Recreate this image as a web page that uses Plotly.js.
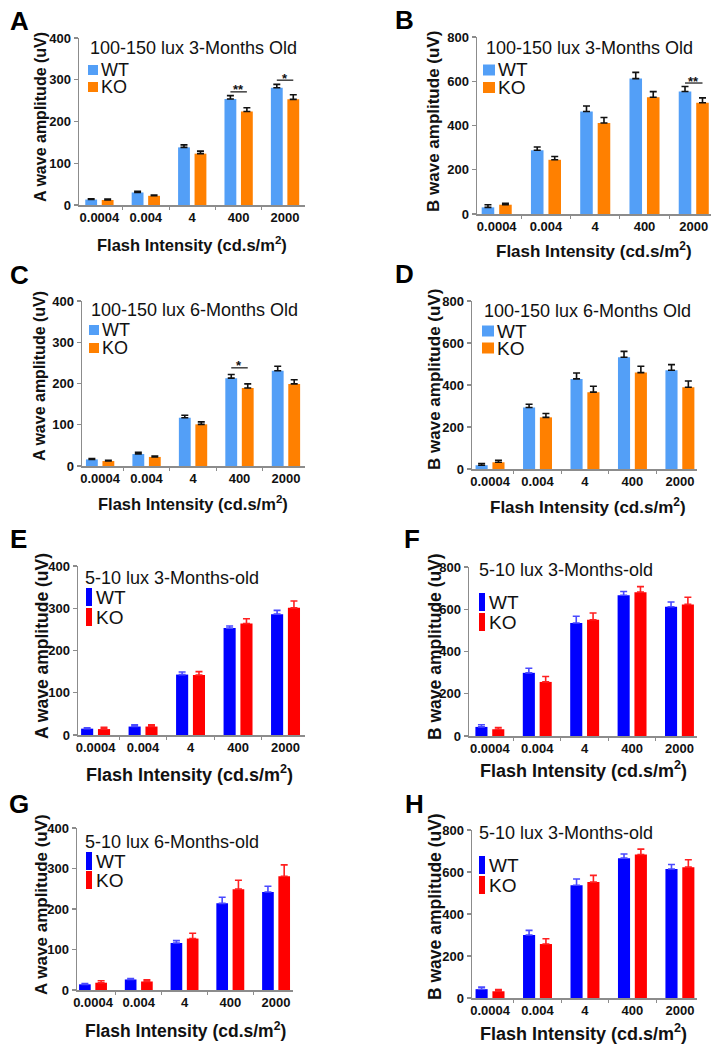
<!DOCTYPE html>
<html><head><meta charset="utf-8">
<script src="https://cdn.plot.ly/plotly-3.0.1.min.js"></script>
<style>html,body{margin:0;padding:0;background:#fff}</style>
</head><body><div id="chart" style="width:724px;height:1050px"></div>
<script>
// ---------- data ----------
const categories = ['0.0004', '0.004', '4', '400', '2000'];
const seriesNames = ['WT', 'KO'];

// A: A-wave, 100-150 lux, 3 months
const A_WT = [13, 30, 138, 254, 281];
const A_WTerr = [2, 3, 6, 8, 8];
const A_KO = [12, 22, 123, 224, 253];
const A_KOerr = [2, 2, 6, 9, 11];
// B: B-wave, 100-150 lux, 3 months
const B_WT = [30, 288, 463, 612, 554];
const B_WTerr = [12, 15, 25, 28, 22];
const B_KO = [42, 245, 411, 528, 503];
const B_KOerr = [6, 15, 25, 25, 22];
// C: A-wave, 100-150 lux, 6 months
const C_WT = [16, 29, 117, 213, 231];
const C_WTerr = [2, 4, 6, 9, 11];
const C_KO = [12, 22, 101, 189, 199];
const C_KOerr = [2, 2, 6, 10, 10];
// D: B-wave, 100-150 lux, 6 months
const D_WT = [18, 293, 429, 532, 470];
const D_WTerr = [8, 15, 28, 28, 27];
const D_KO = [32, 246, 366, 459, 389];
const D_KOerr = [10, 18, 28, 30, 30];
// E: A-wave, 5-10 lux, 3 months
const E_WT = [15, 20, 143, 253, 286];
const E_WTerr = [2, 4, 6, 5, 9];
const E_KO = [14, 20, 142, 264, 301];
const E_KOerr = [4, 4, 8, 11, 16];
// F: B-wave, 5-10 lux, 3 months
const F_WT = [43, 299, 535, 666, 612];
const F_WTerr = [10, 22, 32, 18, 22];
const F_KO = [32, 256, 550, 681, 623];
const F_KOerr = [8, 26, 32, 26, 34];
// G: A-wave, 5-10 lux, 6 months
const G_WT = [14, 26, 116, 214, 242];
const G_WTerr = [2, 2, 6, 15, 14];
const G_KO = [18, 21, 127, 249, 281];
const G_KOerr = [5, 4, 13, 22, 28];
// H: B-wave, 5-10 lux, 3 months
const H_WT = [42, 300, 537, 666, 614];
const H_WTerr = [10, 22, 30, 20, 22];
const H_KO = [32, 257, 552, 683, 623];
const H_KOerr = [8, 25, 32, 26, 35];

// significance markers
const sigA_cat = ['400', '2000'], sigA_y = [271, 299], sigA_txt = ['**', '*'];
const sigB_cat = ['2000'], sigB_y = [592], sigB_txt = ['**'];
const sigC_cat = ['400'], sigC_y = [238], sigC_txt = ['*'];

const panelTitles = ['100-150 lux 3-Months Old', '100-150 lux 3-Months Old',
  '100-150 lux 6-Months Old', '100-150 lux 6-Months Old',
  '5-10 lux 3-Months-old', '5-10 lux 3-Months-old',
  '5-10 lux 6-Months-old', '5-10 lux 3-Months-old'];
const yTitles = ['A wave amplitude (uV)', 'B wave amplitude (uV)'];
const xTitle = 'Flash Intensity (cd.s/m<sup>2</sup>)';

// ---------- layout / styling ----------
const W = 724, H = 1050;
const px = x => x / W, py = y => 1 - y / H;
const FONT = 'Liberation Sans, Arial, sans-serif';
const AXC = '#8c8c8c';
const BARW = 0.255, OFF_WT = -0.305, OFF_KO = 0.05;

const panels = [
  {L:'A', wt:A_WT, we:A_WTerr, ko:A_KO, ke:A_KOerr, yt:0, ymax:400, box:[79,305,38,205], xr:[-0.44,4.43],
   sch:0, let:[19,21], ttl:[88,48], sw:[88,98,10], lw:[70,87], tx:100, lf:18, yta:[40,117,16], xta:[192,244,16.5],
   sig:[sigA_cat,sigA_y,sigA_txt]},
  {L:'B', wt:B_WT, we:B_WTerr, ko:B_KO, ke:B_KOerr, yt:1, ymax:800, box:[477,711,37,214], xr:[-0.4,4.35],
   sch:0, let:[404,20], ttl:[484,48], sw:[483,495,11], lw:[70,87.5], tx:497, lf:19, yta:[434,122,17], xta:[594,250,17],
   sig:[sigB_cat,sigB_y,sigB_txt]},
  {L:'C', wt:C_WT, we:C_WTerr, ko:C_KO, ke:C_KOerr, yt:0, ymax:400, box:[82,305,301,466], xr:[-0.39,4.41],
   sch:0, let:[19,275], ttl:[89,310], sw:[89,99,10], lw:[330,348], tx:101, lf:18, yta:[40,376,16], xta:[193,503,16.5],
   sig:[sigC_cat,sigC_y,sigC_txt]},
  {L:'D', wt:D_WT, we:D_WTerr, ko:D_KO, ke:D_KOerr, yt:1, ymax:800, box:[472,697,301,469], xr:[-0.38,4.36],
   sch:0, let:[404,274], ttl:[482,311], sw:[482,494,11], lw:[331,348], tx:496, lf:19, yta:[434,380,17], xta:[588,506,17]},
  {L:'E', wt:E_WT, we:E_WTerr, ko:E_KO, ke:E_KOerr, yt:0, ymax:400, box:[78,305,566,735], xr:[-0.37,4.41],
   sch:1, let:[18,539], ttl:[83,578], sw:[86,92,18], lw:[597,617], tx:95, lf:19, yta:[42,646,17.5], xta:[189,773,18]},
  {L:'F', wt:F_WT, we:F_WTerr, ko:F_KO, ke:F_KOerr, yt:1, ymax:800, box:[469,697,567,736], xr:[-0.44,4.37],
   sch:1, let:[412,539], ttl:[477,570], sw:[479,485,18], lw:[602,622], tx:488, lf:19, yta:[435,647,17.5], xta:[583,769,18]},
  {L:'G', wt:G_WT, we:G_WTerr, ko:G_KO, ke:G_KOerr, yt:0, ymax:400, box:[77,293,828,990], xr:[-0.35,4.37],
   sch:1, let:[19,804], ttl:[83,842], sw:[86,92,18], lw:[861,880], tx:95, lf:19, yta:[41,905,17], xta:[185,1030,17.5]},
  {L:'H', wt:H_WT, we:H_WTerr, ko:H_KO, ke:H_KOerr, yt:1, ymax:800, box:[472,697,830,998], xr:[-0.38,4.36],
   sch:1, let:[414,804], ttl:[477,833], sw:[479,485,18], lw:[865,885], tx:488, lf:19, yta:[435,907,17.5], xta:[583,1032,18]}
];

const schemes = [
  {wt:'#539ff7', ko:'#ff8000', wte:'#111111', koe:'#111111'},
  {wt:'#0000ff', ko:'#ff0000', wte:'#4a4aff', koe:'#ff2020'}
];

const traces = [];
const layout = {
  width: W, height: H, margin: {l:0, r:0, t:0, b:0},
  paper_bgcolor: '#fff', plot_bgcolor: 'rgba(0,0,0,0)',
  showlegend: false, barmode: 'group',
  font: {family: FONT, color: '#111'},
  annotations: [], shapes: []
};

panels.forEach((p, i) => {
  const n = i + 1, xa = 'x' + (n === 1 ? '' : n), ya = 'y' + (n === 1 ? '' : n);
  const c = schemes[p.sch];
  [[p.wt, p.we, c.wt, c.wte, OFF_WT, seriesNames[0]], [p.ko, p.ke, c.ko, c.koe, OFF_KO, seriesNames[1]]]
    .forEach(([vals, errs, col, ecol, off, name]) => {
      traces.push({
        type: 'bar', name: name, x: categories, y: vals, xaxis: xa, yaxis: ya,
        width: BARW, offset: off, marker: {color: col, line: {width: 0}},
        error_y: {type: 'data', symmetric: false, array: errs, arrayminus: [],
                  color: ecol, thickness: 1.6, width: 3.5},
        hoverinfo: 'skip'
      });
    });
  const [x0, x1, y0, y1] = p.box;
  const ak = 'xaxis' + (n === 1 ? '' : n), yk = 'yaxis' + (n === 1 ? '' : n);
  layout[ak] = {
    domain: [px(x0), px(x1)], anchor: ya, type: 'category', range: p.xr,
    showline: true, linecolor: AXC, linewidth: 1.5, mirror: false,
    ticks: 'outside', tickson: 'boundaries', ticklen: 3, tickcolor: AXC, tickwidth: 1,
    tickangle: 0, automargin: false,
    tickfont: {family: FONT, size: 13, color: '#111', weight: 'bold'},
    showgrid: false, zeroline: false, fixedrange: true
  };
  layout[yk] = {
    domain: [py(y1), py(y0)], anchor: xa, range: [0, p.ymax], dtick: p.ymax / 4,
    showline: true, linecolor: AXC, linewidth: 1.5, automargin: false,
    ticks: 'outside', ticklen: 4, tickcolor: AXC, tickwidth: 1.2,
    tickfont: {family: FONT, size: 13, color: '#111', weight: 'bold'},
    showgrid: false, zeroline: false, fixedrange: true
  };
  const A = layout.annotations, S = layout.shapes;
  // panel letter
  A.push({xref:'paper', yref:'paper', x:px(p.let[0]), y:py(p.let[1]), xanchor:'center', yanchor:'middle',
          text:'<b>' + p.L + '</b>', showarrow:false, font:{family:FONT, size:26, color:'#000'}});
  // panel title
  A.push({xref:'paper', yref:'paper', x:px(p.ttl[0]), y:py(p.ttl[1]), xanchor:'left', yanchor:'middle',
          text: panelTitles[i], showarrow:false, font:{family:FONT, size:18, color:'#111'}});
  // legend swatches + labels
  [[c.wt, p.lw[0], seriesNames[0]], [c.ko, p.lw[1], seriesNames[1]]].forEach(([col, cy, lab]) => {
    const h = p.sw[2];
    S.push({type:'rect', xref:'paper', yref:'paper', x0:px(p.sw[0]), x1:px(p.sw[1]),
            y0:py(cy + h/2), y1:py(cy - h/2), fillcolor:col, line:{width:0}});
    A.push({xref:'paper', yref:'paper', x:px(p.tx), y:py(cy), xanchor:'left', yanchor:'middle',
            text: lab, showarrow:false, borderpad:0, font:{family:FONT, size:p.lf, color:'#111'}});
  });
  // axis titles
  A.push({xref:'paper', yref:'paper', x:px(p.yta[0]), y:py(p.yta[1]), xanchor:'center', yanchor:'middle',
          textangle:-90, text:'<b>' + yTitles[p.yt] + '</b>', showarrow:false,
          font:{family:FONT, size:p.yta[2], color:'#111'}});
  A.push({xref:'paper', yref:'paper', x:px(p.xta[0]), y:py(p.xta[1]), xanchor:'center', yanchor:'middle',
          text:'<b>' + xTitle + '</b>', showarrow:false, font:{family:FONT, size:p.xta[2], color:'#111'}});
  // significance
  if (p.sig) {
    const [cats, ys, txts] = p.sig;
    cats.forEach((cat, k) => {
      const idx = categories.indexOf(cat);
      S.push({type:'line', xref:xa, yref:ya, x0: idx + OFF_WT + BARW/2, x1: idx + OFF_KO + BARW/2,
              y0: ys[k], y1: ys[k], line:{color:'#222', width:1.3}});
      A.push({xref:xa, yref:ya, x: idx, y: ys[k], xanchor:'center', yanchor:'middle', yshift: 2,
              text:'<b>' + txts[k] + '</b>', showarrow:false, font:{family:FONT, size:13, color:'#111'}});
    });
  }
});

Plotly.newPlot('chart', traces, layout, {staticPlot: true, displayModeBar: false});
</script>
</body></html>
